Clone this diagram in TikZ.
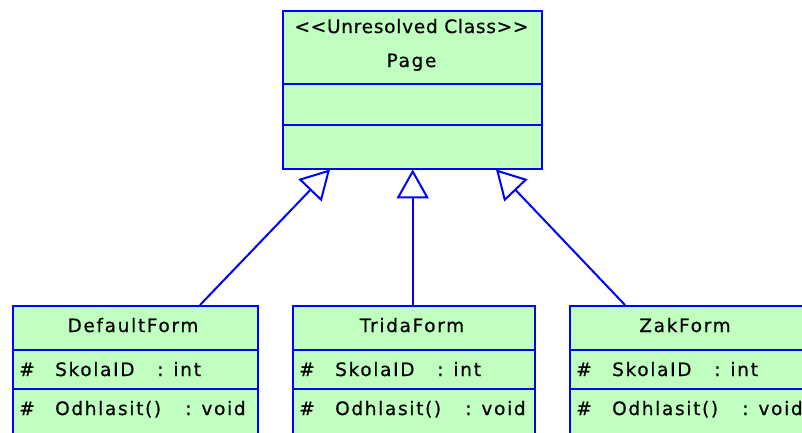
\documentclass[tikz,border=0pt]{standalone}
\usepackage{fontspec}
\setmainfont{DejaVu Sans}[LetterSpace=9,Ligatures=NoCommon,FakeBold=0.6]
\usetikzlibrary{arrows.meta,calc}
\definecolor{umlfill}{RGB}{192,255,192}
\definecolor{umlline}{RGB}{0,0,255}
\tikzset{
  cls/.style={draw=umlline, fill=umlfill, line width=2.4pt, anchor=north west, inner sep=0pt},
  div/.style={draw=umlline, line width=2.4pt},
  txt/.style={inner sep=0pt, anchor=base, font=\fontsize{18.5}{22}\selectfont, text=black},
  ltxt/.style={txt, anchor=base west},
  gen/.style={draw=umlline, line width=2pt, -{Triangle[open, length=29pt, width=32pt, fill=white]}},
}
\begin{document}
\begin{tikzpicture}[x=1pt,y=-1pt]
\useasboundingbox (0,0) rectangle (802,432);
\clip (0,0) rectangle (802,432);
% Page
\node[cls, minimum width=259pt, minimum height=158pt] (page) at (282,10) {};
\draw[div] (282,84) -- (541,84);
\draw[div] (282,125) -- (541,125);
\node[txt] (pst) at (411.5,33) {\addfontfeatures{LetterSpace=4}{<}{<}Unresolved Class{>}{>}};
\node[txt] (pnm) at (411.5,67) {Page};
% DefaultForm
\node[cls, minimum width=245pt, minimum height=140pt] (df) at (12,305) {};
\draw[div] (12,350) -- (257,350);
\draw[div] (12,389) -- (257,389);
\node[txt] (dfn) at (133,332) {DefaultForm};
\node[ltxt] (dfh1) at (19,376) {\#};
\node[ltxt] (dfa) at (55,376) {SkolaID};
\node[ltxt] (dft) at (157,376) {: int};
\node[ltxt] (dfh2) at (19,415) {\#};
\node[ltxt] (dfo) at (55,415) {Odhlasit()};
\node[ltxt] (dfv) at (185,415) {: void};
% TridaForm
\node[cls, minimum width=242pt, minimum height=140pt] (tf) at (292,305) {};
\draw[div] (292,350) -- (534,350);
\draw[div] (292,389) -- (534,389);
\node[txt] (tfn) at (412,332) {TridaForm};
\node[ltxt] (tfh1) at (299,376) {\#};
\node[ltxt] (tfa) at (335,376) {SkolaID};
\node[ltxt] (tft) at (437,376) {: int};
\node[ltxt] (tfh2) at (299,415) {\#};
\node[ltxt] (tfo) at (335,415) {Odhlasit()};
\node[ltxt] (tfv) at (465,415) {: void};
% ZakForm
\node[cls, minimum width=260pt, minimum height=140pt] (zf) at (569,305) {};
\draw[div] (569,350) -- (830,350);
\draw[div] (569,389) -- (830,389);
\node[txt] (zfn) at (685,332) {ZakForm};
\node[ltxt] (zfh1) at (576,376) {\#};
\node[ltxt] (zfa) at (612,376) {SkolaID};
\node[ltxt] (zft) at (714,376) {: int};
\node[ltxt] (zfh2) at (576,415) {\#};
\node[ltxt] (zfo) at (612,415) {Odhlasit()};
\node[ltxt] (zfv) at (742,415) {: void};
% generalizations
\draw[gen] ($(df.north west)+(188,0)$) -- ($(page.south west)+(48,-1)$);
\draw[gen] (tf.north -| page.south) -- ($(page.south)+(0,-1)$);
\draw[gen] ($(zf.north west)+(56,0)$) -- ($(page.south west)+(214,-1)$);
\end{tikzpicture}
\end{document}
